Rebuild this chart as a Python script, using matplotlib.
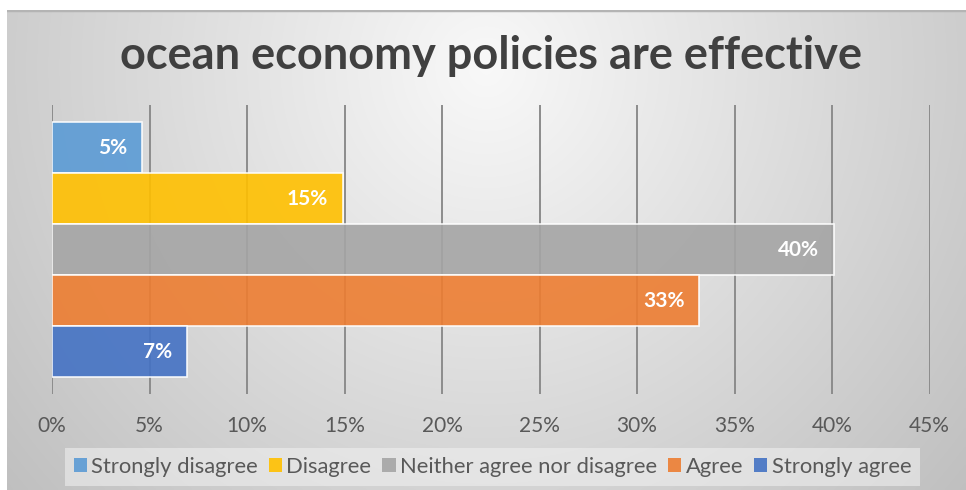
import numpy as np
import matplotlib
matplotlib.use("Agg")
import matplotlib.pyplot as plt
from matplotlib.patches import Patch
from matplotlib.ticker import FuncFormatter, MultipleLocator

plt.rcParams['font.family'] = ['Lato', 'DejaVu Sans']

title = "ocean economy policies are effective"
categories = ["Strongly disagree", "Disagree", "Neither agree nor disagree",
              "Agree", "Strongly agree"]
shares = [0.046, 0.149, 0.401, 0.332, 0.069]
colors = ["#5B9BD5", "#FFC000", "#A5A5A5", "#ED7D31", "#4472C4"]

W, H = 966, 490
fig = plt.figure(figsize=(W / 100, H / 100), dpi=100)
fig.patch.set_facecolor("white")

# chart area with a soft radial grey gradient
left_px, top_px = 7, 10
bg = fig.add_axes([left_px / W, 0, 1 - left_px / W, 1 - top_px / H])
bg.set_axis_off()
gx, gy = np.meshgrid(np.linspace(0, 1, 400), np.linspace(0, 1, 200))
r = np.sqrt(((gx - 0.5) / 0.56) ** 2 + ((gy - 0.12) / 1.15) ** 2)
v = np.clip(0.975 - 0.19 * r, 0.74, 1.0)
bg.imshow(np.dstack([v, v, v]), aspect="auto", extent=[0, 1, 1, 0],
          interpolation="bilinear")
bg.set_xlim(0, 1)
bg.set_ylim(1, 0)
bg.axhline(0.0, color="#b4b4b4", lw=2.5)

# plotting area
x0, x1 = 52, 929.5
y0, y1 = 105, 394
ax = fig.add_axes([x0 / W, 1 - y1 / H, (x1 - x0) / W, (y1 - y0) / H])
ax.patch.set_alpha(0)
pos = np.arange(len(categories))
bars = ax.barh(pos, shares, height=1.0, color=colors, alpha=0.9,
               edgecolor="white", linewidth=1.2, zorder=2)
pad = (289 / 51 - 5) / 2
ax.set_ylim(len(categories) - 0.5 + pad, -0.5 - pad)
ax.set_xlim(0, 0.45)
ax.xaxis.set_major_locator(MultipleLocator(0.05))
ax.xaxis.set_major_formatter(FuncFormatter(lambda x, _: f"{x * 100:.0f}%"))
ax.grid(axis="x", color="#8c8c8c", linewidth=1.4, zorder=1)
ax.set_axisbelow(True)
ax.set_yticks([])
for s in ax.spines.values():
    s.set_visible(False)
ax.tick_params(axis="x", length=0, pad=16, labelsize=15, labelcolor="#595959")

for b, val in zip(bars, shares):
    ax.text(val - 0.0075, b.get_y() + b.get_height() / 2, f"{val * 100:.0f}%",
            ha="right", va="center", color="white", fontsize=15,
            fontweight="bold", zorder=3)

fig.text(491 / W, 1 - 56 / H, title, ha="center", va="center",
         fontsize=32.5, fontweight="bold", color="#404040")

handles = [Patch(facecolor=c, edgecolor="none", alpha=0.9) for c in colors]
leg = fig.legend(handles, categories, loc="center",
                 bbox_to_anchor=(492.5 / W, 1 - 467 / H), ncol=5,
                 frameon=True, fontsize=15.8, handlelength=0.6,
                 handleheight=0.6, handletextpad=0.2, columnspacing=0.5,
                 borderpad=0.4, borderaxespad=0)
for t in leg.get_texts():
    t.set_color("#595959")
frame = leg.get_frame()
frame.set_facecolor("#f2f2f2")
frame.set_alpha(0.55)
frame.set_edgecolor("none")
frame.set_boxstyle("square", pad=0)

fig.savefig("out.png", dpi=100)
